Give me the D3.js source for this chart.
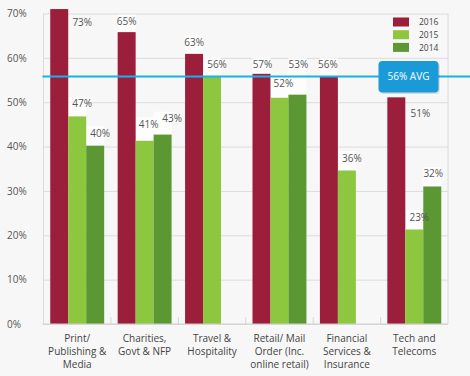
<!DOCTYPE html>
<html>
<head>
<meta charset="utf-8">
<script src="https://cdn.jsdelivr.net/npm/d3@7"></script>
<style>
  body { margin: 0; background: #f7f7f7; }
  svg { display: block; font-family: "Open Sans", "Noto Sans", sans-serif; }
</style>
</head>
<body>
<svg width="470" height="376"></svg>
<script>
// data
var categories = [
  ["Print/", "Publishing &", "Media"],
  ["Charities,", "Govt & NFP"],
  ["Travel &", "Hospitality"],
  ["Retail/ Mail", "Order (Inc.", "online retail)"],
  ["Financial", "Services &", "Insurance"],
  ["Tech and", "Telecoms"]
];
var series = ["2016", "2015", "2014"];
var values2016 = [71, 65.8, 60.9, 56.4, 55.8, 51.1];
var values2015 = [46.8, 41.3, 55.7, 51, 34.6, 21.3];
var values2014 = [40.2, 42.7, null, 51.7, null, 31];
var labels2016 = ["73%", "65%", "63%", "57%", "56%", "51%"];
var labels2015 = ["47%", "41%", "56%", "52%", "36%", "23%"];
var labels2014 = ["40%", "43%", null, "53%", null, "32%"];
var yTicks = [0, 10, 20, 30, 40, 50, 60, 70];
var avgValue = 55.8;
var avgLabel = "56% AVG";

var colors = {"2016": "#9b1f3b", "2015": "#8dc63f", "2014": "#5b9733"};

var pLeft = 43.5, pRight = 448, pTop = 13.5, pBottom = 324;

var svg = d3.select("svg");

var x = d3.scaleBand().domain(d3.range(categories.length)).range([pLeft, pRight])
  .paddingInner(0.2).paddingOuter(0.1);
var xs = d3.scaleBand().domain(series).range([0, x.bandwidth()]);
var y = d3.scaleLinear().domain([0, 70]).range([pBottom, pTop]);

// gridlines + y labels
var yAxis = svg.append("g")
  .attr("transform", "translate(" + pLeft + ",0)")
  .call(d3.axisLeft(y).tickValues(yTicks).tickSize(-(pRight - pLeft)).tickFormat(function(d) { return d + "%"; }));
yAxis.select(".domain").remove();
yAxis.selectAll(".tick line").attr("stroke", "#dcdcdc");
yAxis.selectAll(".tick text")
  .attr("x", -36.5).attr("text-anchor", "start")
  .attr("font-size", 10).attr("fill", "#555")
  .style("font-family", "'Open Sans', sans-serif");

// frame sides
svg.append("line").attr("x1", pLeft).attr("x2", pLeft).attr("y1", pTop).attr("y2", pBottom).attr("stroke", "#dcdcdc");
svg.append("line").attr("x1", pRight).attr("x2", pRight).attr("y1", pTop).attr("y2", pBottom).attr("stroke", "#dcdcdc");

// small ticks between groups
svg.append("g").selectAll("line")
  .data(d3.range(1, categories.length))
  .join("line")
  .attr("x1", function(i) { return pLeft + i * x.step(); })
  .attr("x2", function(i) { return pLeft + i * x.step(); })
  .attr("y1", pBottom - 7).attr("y2", pBottom)
  .attr("stroke", "#d6d6d6");

var rows = [];
var vals = {"2016": values2016, "2015": values2015, "2014": values2014};
var labs = {"2016": labels2016, "2015": labels2015, "2014": labels2014};
categories.forEach(function(c, i) {
  series.forEach(function(s) {
    if (vals[s][i] != null) rows.push({i: i, s: s, v: vals[s][i], label: labs[s][i]});
  });
});

// label nudges where the original moved them
var nudge = {
  "0|2016": {dx: 23, dy: 13},
  "5|2016": {dx: 24, dy: 16},
  "3|2014": {dx: 1, dy: -30},
  "1|2015": {dx: 4, dy: -16.5},
  "1|2014": {dx: 9.5, dy: -16},
  "1|2016": {dx: 0, dy: -10.5},
  "2|2016": {dx: 0, dy: -11.5},
  "3|2016": {dx: 1, dy: -9.5},
  "3|2015": {dx: 4, dy: -14},
  "4|2016": {dx: -1, dy: -11.5},
  "5|2014": {dx: 1, dy: -12.5}
};
function nd(d) { return nudge[d.i + "|" + d.s] || {dx: 5, dy: -12.5}; }

// pale label backdrops above the bars
svg.append("g").selectAll("rect")
  .data(rows.filter(function(d) { return nd(d).dy < 0; }))
  .join("rect")
  .attr("x", function(d) { return x(d.i) + xs(d.s); })
  .attr("width", xs.bandwidth())
  .attr("y", function(d) { return y(d.v) + nd(d).dy - 7; })
  .attr("height", function(d) { return -nd(d).dy + 7; })
  .attr("fill", "#fff").attr("opacity", 0.75);

// bars
svg.append("g").selectAll("rect")
  .data(rows)
  .join("rect")
  .attr("x", function(d) { return x(d.i) + xs(d.s); })
  .attr("width", xs.bandwidth())
  .attr("y", function(d) { return y(d.v); })
  .attr("height", function(d) { return pBottom - y(d.v); })
  .attr("fill", function(d) { return colors[d.s]; });

svg.append("g").selectAll("text")
  .data(rows)
  .join("text")
  .attr("x", function(d) { return x(d.i) + xs(d.s) + xs.bandwidth() / 2 + nd(d).dx; })
  .attr("y", function(d) { return y(d.v) + nd(d).dy + 3.5; })
  .attr("text-anchor", "middle")
  .attr("font-size", 10)
  .attr("fill", "#555")
  .text(function(d) { return d.label; });

// bottom axis line
svg.append("line").attr("x1", pLeft - 1).attr("x2", pRight).attr("y1", pBottom).attr("y2", pBottom).attr("stroke", "#cfcfcf");

// category labels
var cat = svg.append("g").selectAll("text")
  .data(categories)
  .join("text")
  .attr("text-anchor", "middle")
  .attr("font-size", 10)
  .attr("fill", "#444")
  .attr("x", function(d, i) { return x(i) + x.bandwidth() / 2; })
  .attr("y", 342);
cat.selectAll("tspan")
  .data(function(d) { return d; })
  .join("tspan")
  .attr("x", function() { return d3.select(this.parentNode).attr("x"); })
  .attr("dy", function(d, j) { return j ? 13 : 0; })
  .text(function(d) { return d; });

// legend
var lg = svg.append("g").attr("transform", "translate(393,17.5)");
series.forEach(function(s, k) {
  lg.append("rect").attr("x", 0).attr("y", k * 12.7).attr("width", 16).attr("height", 9).attr("fill", colors[s]);
  lg.append("text").attr("x", 26).attr("y", k * 12.7 + 7.8).attr("font-size", 8.5).attr("fill", "#444").text(s);
});

// average line and box
var ya = y(avgValue);
svg.append("line").attr("x1", pLeft - 1).attr("x2", 470).attr("y1", ya).attr("y2", ya)
  .attr("stroke", "#1ab0ec").attr("stroke-width", 2);
svg.append("rect").attr("x", 379).attr("y", ya - 15).attr("width", 60).attr("height", 31.5).attr("rx", 4)
  .attr("fill", "#000").attr("opacity", 0.12).attr("transform", "translate(0.8,1)");
svg.append("rect").attr("x", 378.5).attr("y", ya - 15.5).attr("width", 60).attr("height", 31.5).attr("rx", 4)
  .attr("fill", "#1a9bd8");
svg.append("text").attr("x", 408.5).attr("y", ya + 3.8).attr("text-anchor", "middle")
  .attr("font-size", 10).attr("fill", "#fff").text(avgLabel);
</script>
</body>
</html>
